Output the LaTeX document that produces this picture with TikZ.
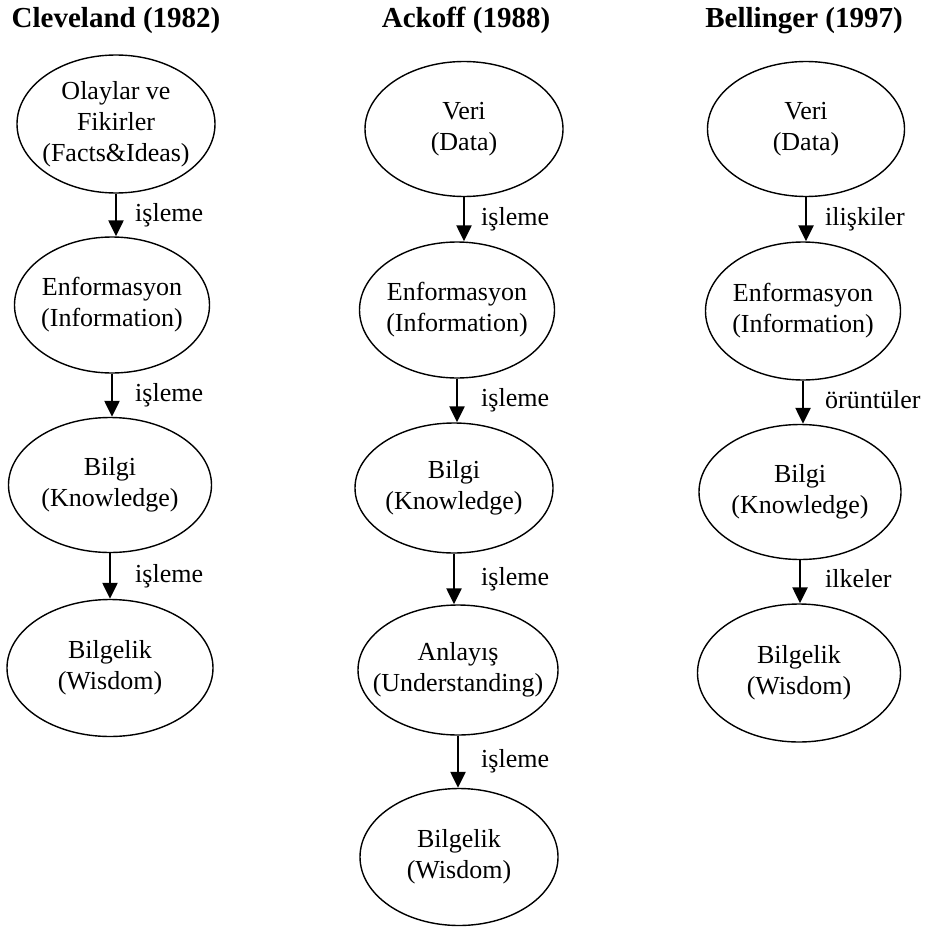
\documentclass[tikz,border=0pt]{standalone}
\usepackage{fontspec}
\setmainfont{Liberation Serif}
\usetikzlibrary{shapes.geometric,arrows.meta}
\newcommand\nodetextsize{\fontsize{26}{31}\selectfont}
\newcommand\headsize{\fontsize{29}{35}\selectfont\bfseries}
\begin{document}
\begin{tikzpicture}[x=1pt,y=-1pt,
  ell/.style={draw, ellipse, line width=1.4pt, inner sep=0pt,
              minimum width=198pt, minimum height=136pt},
  ctext/.style={align=center, font=\nodetextsize},
  arr/.style={-{Triangle[length=16pt,width=15pt]}, line width=2.4pt},
  lbl/.style={anchor=base west, font=\nodetextsize, inner sep=0pt, yshift=-6pt},
  ttl/.style={anchor=base, font=\headsize, inner sep=0pt}]
\useasboundingbox (0,0) rectangle (925,931);

% column label positions
\coordinate (Lc) at (135,0);
\coordinate (La) at (481,0);
\coordinate (Lb) at (825,0);

% headings
\node[ttl] (tc) at (116,28) {Cleveland (1982)};
\node[ttl] (ta) at (466,28) {Ackoff (1988)};
\node[ttl] (tb) at (804,28) {Bellinger (1997)};

% Cleveland
\node[ell, minimum height=138pt, label={[ctext]center:Olaylar ve\\Fikirler\\(Facts\&Ideas)}] (C1) at (116,124) {};
\node[ell, minimum width=195pt, label={[ctext]center:Enformasyon\\(Information)}] (C2) at (112,305) {};
\node[ell, minimum width=203pt, minimum height=135pt, label={[ctext]center:Bilgi\\(Knowledge)}] (C3) at (110,485) {};
\node[ell, minimum width=206pt, minimum height=137pt, label={[ctext]center:Bilgelik\\(Wisdom)}] (C4) at (110,668) {};

\draw[arr] (C1.south) -- (C1.south |- C2.north) coordinate[midway] (c12);
\draw[arr] (C2.south) -- (C2.south |- C3.north) coordinate[midway] (c23);
\draw[arr] (C3.south) -- (C3.south |- C4.north) coordinate[midway] (c34);
\node[lbl] (lc12) at (Lc |- c12) {işleme};
\node[lbl] (lc23) at (Lc |- c23) {işleme};
\node[lbl] (lc34) at (Lc |- c34) {işleme};

% Ackoff
\node[ell, minimum height=135pt, label={[ctext]center:Veri\\(Data)}] (A1) at (464,129) {};
\node[ell, minimum width=195pt, label={[ctext]center:Enformasyon\\(Information)}] (A2) at (457,310) {};
\node[ell, minimum height=130pt, label={[ctext]center:Bilgi\\(Knowledge)}] (A3) at (454,488) {};
\node[ell, minimum width=200pt, minimum height=130pt, label={[ctext]center:Anlayış\\(Understanding)}] (A4) at (458,670) {};
\node[ell, minimum height=137pt, label={[ctext]center:Bilgelik\\(Wisdom)}] (A5) at (459,857) {};

\draw[arr] (A1.south) -- (A1.south |- A2.north) coordinate[midway] (a12);
\draw[arr] (A2.south) -- (A2.south |- A3.north) coordinate[midway] (a23);
\draw[arr] (A3.south) -- (A3.south |- A4.north) coordinate[midway] (a34);
\draw[arr] (A4.south) -- (A4.south |- A5.north) coordinate[midway] (a45);
\node[lbl] (la12) at (La |- a12) {işleme};
\node[lbl] (la23) at (La |- a23) {işleme};
\node[lbl] (la34) at (La |- a34) {işleme};
\node[lbl] (la45) at (La |- a45) {işleme};

% Bellinger
\node[ell, minimum width=197pt, minimum height=135pt, label={[ctext]center:Veri\\(Data)}] (B1) at (806,129) {};
\node[ell, minimum width=195pt, minimum height=138pt, label={[ctext]center:Enformasyon\\(Information)}] (B2) at (803,311) {};
\node[ell, minimum width=202pt, minimum height=135pt, label={[ctext]center:Bilgi\\(Knowledge)}] (B3) at (800,492) {};
\node[ell, minimum width=203pt, minimum height=138pt, label={[ctext]center:Bilgelik\\(Wisdom)}] (B4) at (799,673) {};

\draw[arr] (B1.south) -- (B1.south |- B2.north) coordinate[midway] (b12);
\draw[arr] (B2.south) -- (B2.south |- B3.north) coordinate[midway] (b23);
\draw[arr] (B3.south) -- (B3.south |- B4.north) coordinate[midway] (b34);
\node[lbl] (lb12) at (Lb |- b12) {ilişkiler};
\node[lbl] (lb23) at (Lb |- b23) {örüntüler};
\node[lbl] (lb34) at (Lb |- b34) {ilkeler};
\end{tikzpicture}
\end{document}
